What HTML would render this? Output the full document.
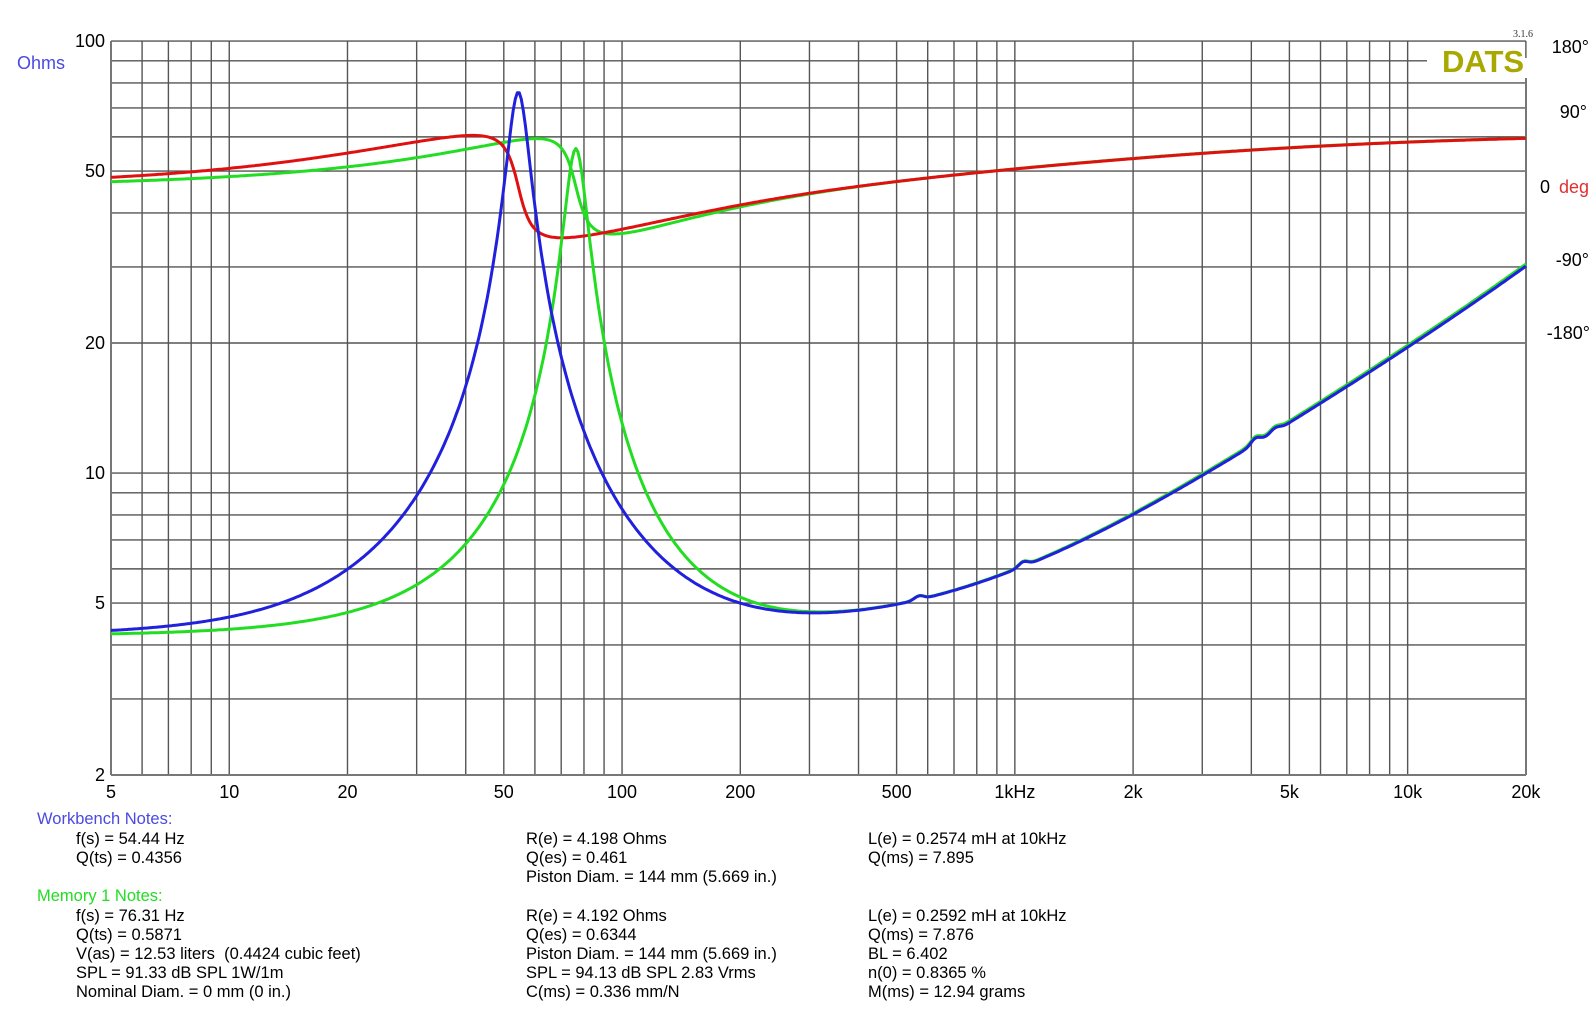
<!DOCTYPE html>
<html><head><meta charset="utf-8"><style>
html,body{margin:0;padding:0;background:#fff;width:1596px;height:1012px;overflow:hidden}
svg{display:block;font-family:"Liberation Sans",Arial,sans-serif}
</style></head><body>
<svg id="s" width="1596" height="1012" viewBox="0 0 1596 1012" xmlns="http://www.w3.org/2000/svg">
<g id="grid"></g>
<rect x="1427" y="58" width="100" height="20" fill="#fff"/>
<g id="curves" fill="none" stroke-width="3" stroke-linejoin="round"></g>
<g id="labels" font-size="18" fill="#000"></g>
<text x="17" y="69" font-size="18" fill="#4a4ae0">Ohms</text>
<text x="1442" y="72" font-size="31" font-weight="bold" fill="#a8a800">DATS</text>
<text x="1513" y="37" font-size="10" fill="#333" font-family="Liberation Serif,serif">3.1.6</text>
<g font-size="18" text-anchor="end">
<text x="1589" y="53">180°</text>
<text x="1587" y="118">90°</text>
<text x="1589" y="266">-90°</text>
<text x="1590" y="339">-180°</text>
</g>
<text x="1540" y="193" font-size="18">0</text>
<text x="1559" y="193" font-size="18" fill="#e03030">deg</text>
<g font-size="16.5" fill="#000">
<text x="37" y="824" fill="#4a4ae0">Workbench Notes:</text>
<text x="76" y="844">f(s) = 54.44 Hz</text>
<text x="76" y="863">Q(ts) = 0.4356</text>
<text x="526" y="844">R(e) = 4.198 Ohms</text>
<text x="526" y="863">Q(es) = 0.461</text>
<text x="526" y="882">Piston Diam. = 144 mm (5.669 in.)</text>
<text x="868" y="844">L(e) = 0.2574 mH at 10kHz</text>
<text x="868" y="863">Q(ms) = 7.895</text>
<text x="37" y="901" fill="#22dd22">Memory 1 Notes:</text>
<text x="76" y="921">f(s) = 76.31 Hz</text>
<text x="76" y="940">Q(ts) = 0.5871</text>
<text x="76" y="959" xml:space="preserve">V(as) = 12.53 liters  (0.4424 cubic feet)</text>
<text x="76" y="978">SPL = 91.33 dB SPL 1W/1m</text>
<text x="76" y="997">Nominal Diam. = 0 mm (0 in.)</text>
<text x="526" y="921">R(e) = 4.192 Ohms</text>
<text x="526" y="940">Q(es) = 0.6344</text>
<text x="526" y="959">Piston Diam. = 144 mm (5.669 in.)</text>
<text x="526" y="978">SPL = 94.13 dB SPL 2.83 Vrms</text>
<text x="526" y="997">C(ms) = 0.336 mm/N</text>
<text x="868" y="921">L(e) = 0.2592 mH at 10kHz</text>
<text x="868" y="940">Q(ms) = 7.876</text>
<text x="868" y="959">BL = 6.402</text>
<text x="868" y="978">n(0) = 0.8365 %</text>
<text x="868" y="997">M(ms) = 12.94 grams</text>
</g>
</svg>
<script>
var NS="http://www.w3.org/2000/svg";
function X(f){return 111+392.8*Math.log10(f/5);}
function Y(z){return 775-432*Math.log10(z/2);}
function P(d){return 187-d*0.811;}
function el(p,t,a){var e=document.createElementNS(NS,t);for(var k in a)e.setAttribute(k,a[k]);p.appendChild(e);return e;}
var g=document.getElementById('grid');
var fs=[5,6,7,8,9];
[10,100,1000].forEach(function(d){for(var i=1;i<10;i++)fs.push(i*d);});
fs.push(10000,20000);
fs.forEach(function(f){var x=X(f);el(g,'line',{x1:x,x2:x,y1:41,y2:775,stroke:'#555','stroke-width':1.4});});
var zs=[2,3,4,5,6,7,8,9,10,20,30,40,50,60,70,80,90,100];
zs.forEach(function(z){var y=Y(z);var x2=(z==90)?1427:1526;el(g,'line',{x1:111,x2:x2,y1:y,y2:y,stroke:'#555','stroke-width':1.4});});
el(g,'line',{x1:111,x2:111,y1:41,y2:775,stroke:'#777','stroke-width':2});
el(g,'line',{x1:1526,x2:1526,y1:78,y2:775,stroke:'#777','stroke-width':2});
el(g,'line',{x1:111,x2:1526,y1:775,y2:775,stroke:'#777','stroke-width':2});
var L=document.getElementById('labels');
[[100,'100'],[50,'50'],[20,'20'],[10,'10'],[5,'5'],[2,'2']].forEach(function(a){var t=el(L,'text',{x:105,y:Y(a[0])+6,'text-anchor':'end'});t.textContent=a[1];});
[[5,'5'],[10,'10'],[20,'20'],[50,'50'],[100,'100'],[200,'200'],[500,'500'],[1000,'1kHz'],[2000,'2k'],[5000,'5k'],[10000,'10k'],[20000,'20k']].forEach(function(a){var t=el(L,'text',{x:X(a[0]),y:798,'text-anchor':'middle'});t.textContent=a[1];});
function Z(f,Re,f0,Qms,Qes,K,n){
 var w=2*Math.PI*f,x=Qms*(f/f0-f0/f),Res=Re*Qms/Qes;
 var mr=Res/(1+x*x),mi=-Res*x/(1+x*x);
 var m=K*Math.pow(w,n),lr=m*Math.cos(n*Math.PI/2),li=m*Math.sin(n*Math.PI/2);
 var r=Re+mr+lr,i=mi+li;
 var gl=0;
 [[570,0.02],[1050,0.025],[4100,0.03],[4600,0.02]].forEach(function(q){var d=Math.log(f/q[0]);gl+=q[1]*Math.exp(-d*d/0.0015);});
 var lf=Math.log10(f)-3.6;var bump=0.11*Math.exp(-lf*lf/0.405);
 return [Math.sqrt(r*r+i*i)*(1+gl)*(1+bump),Math.atan2(i,r)*180/Math.PI];
}
var C=document.getElementById('curves');
function draw(par){
 var dz='',dp='';
 for(var k=0;k<=700;k++){var f=5*Math.pow(4000,k/700);var z=Z(f,par[0],par[1],par[2],par[3],par[4],par[5]);
  dz+=(k?'L':'M')+X(f).toFixed(1)+','+Y(z[0]).toFixed(1);
  dp+=(k?'L':'M')+X(f).toFixed(1)+','+P(z[1]).toFixed(1);}
 return [dz,dp];
}
var gr=draw([4.192,76.31,7.876,0.6344,0.00405,0.752]);
var bl=draw([4.198,54.44,7.895,0.461,0.00400,0.752]);
el(C,'path',{d:gr[1],stroke:'#22dd22'});
el(C,'path',{d:bl[1],stroke:'#e01010'});
el(C,'path',{d:gr[0],stroke:'#22dd22'});
el(C,'path',{d:bl[0],stroke:'#2020dd'});
</script>
</body></html>
